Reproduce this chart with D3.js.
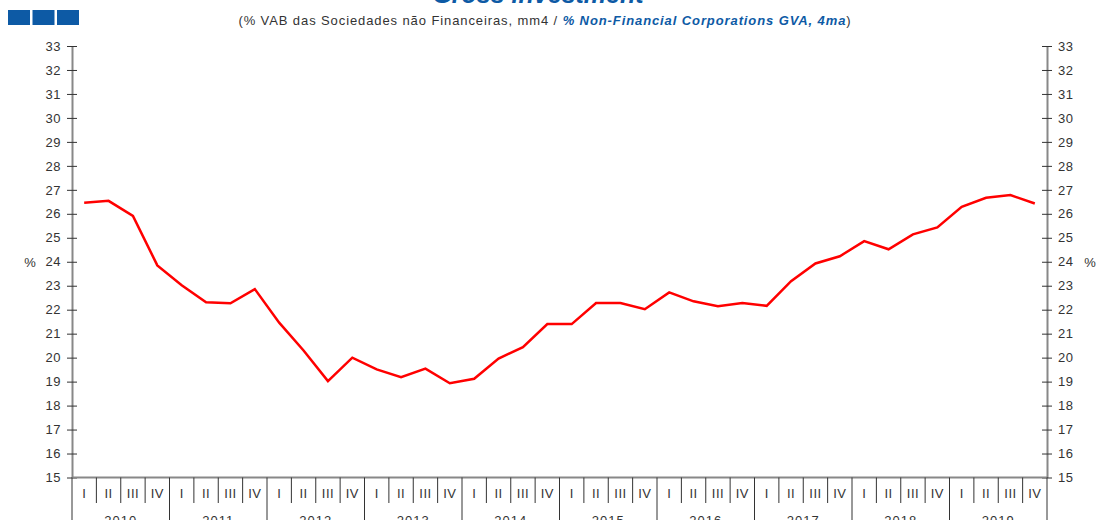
<!DOCTYPE html>
<html>
<head>
<meta charset="utf-8">
<script src="https://cdn.jsdelivr.net/npm/d3@7"></script>
<style>
  body { margin: 0; background: #fff; }
  svg { display: block; font-family: "Liberation Sans", Arial, sans-serif; }
</style>
</head>
<body>
<div id="chart"></div>
<script>
// data
let years = ["2010", "2011", "2012", "2013", "2014", "2015", "2016", "2017", "2018", "2019"];
let quarters = ["I", "II", "III", "IV"];
let values = [
  26.46, 26.54, 25.91, 23.85,
  23.02, 22.31, 22.27, 22.86,
  21.46, 20.30, 19.02, 20.00,
  19.51, 19.18, 19.54, 18.93,
  19.12, 19.96, 20.44, 21.40,
  21.40, 22.28, 22.28, 22.02,
  22.72, 22.35, 22.14, 22.28,
  22.16, 23.19, 23.93, 24.23,
  24.86, 24.52, 25.14, 25.43,
  26.29, 26.67, 26.78, 26.43
];
let yTicks = d3.range(15, 34);

let width = 1096, height = 520;
let mLeft = 72, mRight = 1047, mTop = 46, mBottom = 477.5;
let blue = "#0d5aa5";

let svg = d3.select("#chart").append("svg")
  .attr("width", width)
  .attr("height", height);

// one key per quarter
let keys = [];
years.forEach(function(y) { quarters.forEach(function(q) { keys.push(y + "-" + q); }); });

let x = d3.scaleBand().domain(keys).range([mLeft, mRight]);
let y = d3.scaleLinear().domain([15, 33]).range([mBottom, mTop]);

// little blue squares top left
svg.selectAll("rect.sq")
  .data([0, 1, 2])
  .enter().append("rect")
  .attr("x", function(d) { return 8 + d * 24.5; })
  .attr("y", 10)
  .attr("width", 22)
  .attr("height", 15)
  .attr("fill", blue);

// title (cut at top, like the original)
svg.append("text")
  .attr("x", 538).attr("y", 3)
  .attr("text-anchor", "middle")
  .style("font-size", "25px").style("font-weight", "bold").style("font-style", "italic")
  .attr("fill", blue)
  .text("Gross investment");

let sub = svg.append("text")
  .attr("x", 545).attr("y", 25)
  .attr("text-anchor", "middle")
  .style("font-size", "13px")
  .style("letter-spacing", "0.9px")
  .attr("fill", "#333");
sub.append("tspan").text("(% VAB das Sociedades não Financeiras, mm4 / ");
sub.append("tspan").attr("fill", blue).style("font-weight", "bold").style("font-style", "italic")
  .text("% Non-Financial Corporations GVA, 4ma");
sub.append("tspan").text(")");

// y axes
function drawY(side) {
  let ax = side === "left" ? d3.axisLeft(y) : d3.axisRight(y);
  let xpos = side === "left" ? mLeft : mRight;
  let g = svg.append("g")
    .attr("transform", "translate(" + xpos + ",0)")
    .call(ax.tickValues(yTicks).tickSize(5).tickPadding(6).tickSizeOuter(0));
  g.select(".domain").attr("stroke", "#888").attr("stroke-width", 2);
  g.selectAll(".tick line").attr("stroke", "#333")
    .attr("x1", -5).attr("x2", 5);
  g.selectAll(".tick text")
    .attr("x", side === "left" ? -11 : 11)
    .attr("fill", "#333")
    .style("font-size", "13px")
    .style("letter-spacing", "0.5px")
    .style("font-family", "'Liberation Sans', Arial, sans-serif");
}
drawY("left");
drawY("right");

svg.append("text").attr("x", 30).attr("y", (mTop + mBottom) / 2 + 5)
  .attr("text-anchor", "middle").style("font-size", "13px").attr("fill", "#333").text("%");
svg.append("text").attr("x", 1090).attr("y", (mTop + mBottom) / 2 + 5)
  .attr("text-anchor", "middle").style("font-size", "13px").attr("fill", "#333").text("%");

// x axis line
svg.append("line")
  .attr("x1", mLeft).attr("x2", mRight)
  .attr("y1", mBottom).attr("y2", mBottom)
  .attr("stroke", "#888").attr("stroke-width", 2);

// quarter separators, longer at year boundaries
let bounds = keys.map(function(k) { return x(k); }).concat([mRight]);
svg.selectAll("line.sep")
  .data(bounds)
  .enter().append("line")
  .attr("x1", function(d) { return d; })
  .attr("x2", function(d) { return d; })
  .attr("y1", mBottom)
  .attr("y2", function(d, i) { return i % 4 === 0 ? height : 503; })
  .attr("stroke", "#333").attr("stroke-width", 1);

svg.selectAll("text.q")
  .data(keys)
  .enter().append("text")
  .attr("x", function(d) { return x(d) + x.bandwidth() / 2; })
  .attr("y", 498)
  .attr("text-anchor", "middle")
  .style("font-size", "13px")
  .style("letter-spacing", "0.5px")
  .attr("fill", "#333")
  .text(function(d) { return d.split("-")[1]; });

svg.selectAll("text.yr")
  .data(years)
  .enter().append("text")
  .attr("x", function(d) { return x(d + "-I") + 2 * x.bandwidth(); })
  .attr("y", 525)
  .attr("text-anchor", "middle")
  .style("font-size", "13px")
  .style("letter-spacing", "1px")
  .attr("fill", "#333")
  .text(function(d) { return d; });

// the series
let line = d3.line()
  .x(function(d, i) { return x(keys[i]) + x.bandwidth() / 2; })
  .y(function(d) { return y(d); });

svg.append("path")
  .datum(values)
  .attr("d", line)
  .attr("fill", "none")
  .attr("stroke", "#ff0000")
  .attr("stroke-width", 2.5);
</script>
</body>
</html>
